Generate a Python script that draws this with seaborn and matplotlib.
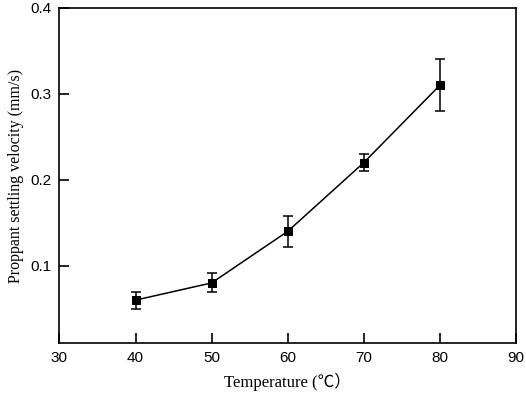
import matplotlib
matplotlib.use("Agg")
import matplotlib.pyplot as plt
import numpy as np
import pandas as pd
import seaborn as sns

# values
temperature = [40, 50, 60, 70, 80]
velocity = [0.060, 0.080, 0.140, 0.220, 0.310]
velocity_err = [0.010, 0.011, 0.018, 0.010, 0.030]

x_ticks = [30, 40, 50, 60, 70, 80, 90]
y_ticks = [0.1, 0.2, 0.3, 0.4]


def main():
    df = pd.DataFrame({"temperature": temperature, "velocity": velocity, "err": velocity_err})

    sns.set_theme(style="white")
    plt.rcParams["font.family"] = ["Liberation Sans", "DejaVu Sans"]

    fig = plt.figure(figsize=(5.26, 3.93), dpi=100)
    ax = fig.add_axes([0.113, 0.127, 0.868, 0.853])

    ax.errorbar(df["temperature"], df["velocity"], yerr=df["err"], fmt="none",
                ecolor="black", elinewidth=1.1, capsize=3.3, capthick=1.1, zorder=2)
    sns.lineplot(data=df, x="temperature", y="velocity", ax=ax, color="black",
                 linewidth=1.1, marker="s", markersize=5.5, markeredgecolor="black",
                 markerfacecolor="black", zorder=3)

    ax.set_xlim(30, 90)
    ax.set_ylim(0.01, 0.4)
    ax.set_xticks(x_ticks)
    ax.set_yticks(y_ticks)
    ax.set_yticklabels([f"{v:.1f}" for v in y_ticks])

    for side in ["left", "bottom", "right", "top"]:
        ax.spines[side].set_color("black")
        ax.spines[side].set_linewidth(1.2)
    ax.tick_params(axis="both", direction="in", length=7, width=1.2, labelsize=11,
                   colors="black", pad=6, left=True, bottom=True, top=False, right=False)

    serif = ["Liberation Serif", "Noto Sans CJK SC", "DejaVu Serif"]
    ax.set_xlabel("Temperature (\u2103\uff09", family=serif, fontsize=12, color="black", labelpad=5)
    ax.set_ylabel("Proppant settling velocity (mm/s)", family=serif, fontsize=11.5,
                  color="black", labelpad=4)

    fig.savefig("out.png", dpi=100)


if __name__ == "__main__":
    main()
